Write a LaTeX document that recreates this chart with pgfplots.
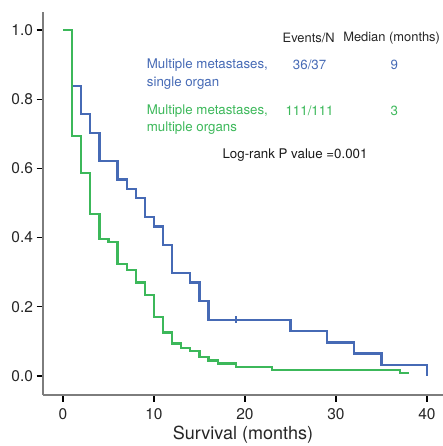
\documentclass[border=0pt]{standalone}
\usepackage{fontspec}
\setmainfont{TeX Gyre Heros}
\usepackage{pgfplots}
\pgfplotsset{compat=1.18}
\definecolor{kmblue}{RGB}{70,106,181}
\definecolor{kmgreen}{RGB}{60,184,90}
\definecolor{axgray}{RGB}{125,125,125}
\begin{document}
\begin{tikzpicture}[x=1pt,y=1pt]
\path[use as bounding box] (-43,-51) rectangle (400,395);
\begin{axis}[
  at={(0,0)}, anchor=south west,
  scale only axis, width=400pt, height=383pt,
  xmin=-2.198, xmax=41.76, ymin=-0.0549, ymax=1.052,
  axis x line*=bottom, axis y line*=left,
  axis line style={-, axgray, line width=1.6pt},
  tick style={black, line width=1.2pt},
  tick align=outside, major tick length=6.5pt,
  xtick={0,10,20,30,40}, ytick={0,0.2,0.4,0.6,0.8,1.0},
  yticklabel style={/pgf/number format/fixed, /pgf/number format/fixed zerofill, /pgf/number format/precision=1},
  xticklabel style={yshift=-3pt},
  /pgf/number format/assume math mode=true,
  tick label style={font=\fontsize{15.5}{17}\selectfont, text=black!85},
  xlabel={Survival (months)},
  xlabel style={font=\fontsize{18}{20}\selectfont, text=black!85, yshift=0pt},
  clip=false,
]
\addplot[const plot, kmblue, line width=2.2pt] coordinates {
(0,1) (1,0.838) (2,0.757) (3,0.703) (4,0.622) (6,0.568) (7,0.541) (8,0.514)
(9,0.459) (10,0.432) (11,0.378) (12,0.297) (14,0.270) (15,0.216) (16,0.162)
(25,0.130) (29,0.097) (32,0.065) (35,0.032) (40,0)
};
\addplot[only marks, mark=|, mark size=3.5pt, kmblue, line width=1.8pt] coordinates {(19,0.162)};
\addplot[const plot, kmgreen, line width=2.2pt] coordinates {
(0,1) (1,0.694) (2,0.586) (3,0.468) (4,0.396) (5,0.387) (6,0.324) (7,0.306)
(8,0.270) (9,0.234) (10,0.171) (11,0.126) (12,0.094) (13,0.081) (14,0.072)
(15,0.054) (16,0.045) (17,0.036) (19,0.027) (23,0.018) (37,0.009) (38,0.009)
};
\begin{scope}[every node/.style={font=\fontsize{13.3}{15}\selectfont, inner sep=0pt}]
\node[anchor=center, text=black!85, font=\fontsize{12.9}{15}\selectfont] at (axis cs:27.0,0.977) {Events/N};
\node[anchor=east, text=black!85, font=\fontsize{12.9}{15}\selectfont] at (axis cs:41.45,0.977) {Median (months)};
\node[anchor=west, text=kmblue] at (axis cs:9.2,0.899) {Multiple metastases,};
\node[anchor=west, text=kmblue] at (axis cs:9.2,0.846) {single organ};
\node[anchor=center, text=kmblue] at (axis cs:27.1,0.899) {36/37};
\node[anchor=center, text=kmblue] at (axis cs:36.4,0.899) {9};
\node[anchor=west, text=kmgreen] at (axis cs:9.2,0.767) {Multiple metastases,};
\node[anchor=west, text=kmgreen] at (axis cs:9.2,0.716) {multiple organs};
\node[anchor=center, text=kmgreen] at (axis cs:27.1,0.767) {111/111};
\node[anchor=center, text=kmgreen] at (axis cs:36.4,0.767) {3};
\node[anchor=center, text=black!90] at (axis cs:25.5,0.639) {Log-rank P value =0.001};
\end{scope}
\end{axis}
\end{tikzpicture}
\end{document}
